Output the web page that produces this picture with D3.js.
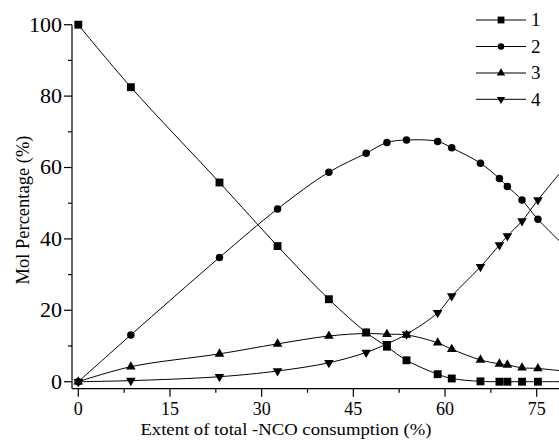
<!DOCTYPE html>
<html>
<head>
<meta charset="utf-8">
<script src="https://cdn.jsdelivr.net/npm/d3@7"></script>
<style>
  body { margin: 0; background: #fff; }
  svg { display: block; }
  text { font-family: "Liberation Serif", "Times New Roman", serif; fill: #000; }
  .axis line { stroke: #000; stroke-width: 1.2; }
</style>
</head>
<body>
<div id="chart"></div>
<script>
// extent of total -NCO consumption (%)
var extent = [0, 8.6, 23.1, 32.6, 41.0, 47.1, 50.5, 53.7, 58.8, 61.1, 65.8, 68.9, 70.2, 72.6, 75.2, 82];
// mol percentage (%) of each species
var species1 = [100, 82.5, 55.8, 38.0, 23.1, 13.8, 9.8, 6.0, 2.1, 0.9, 0.1, 0, 0, 0, 0, 0];
var species2 = [0, 13.1, 34.8, 48.4, 58.7, 64.0, 67.0, 67.7, 67.3, 65.5, 61.2, 56.9, 54.7, 50.9, 45.5, 34];
var species3 = [0, 4.2, 7.8, 10.6, 12.8, 13.5, 13.3, 13.1, 10.9, 9.1, 6.1, 5.0, 4.7, 3.9, 3.7, 2.5];
var species4 = [0, 0.3, 1.4, 3.0, 5.3, 8.2, 10.6, 13.3, 19.3, 24.0, 32.2, 38.3, 40.8, 45.0, 50.9, 65];
var seriesNames = ["1", "2", "3", "4"];
var xTicks = [0, 15, 30, 45, 60, 75];
var yTicks = [0, 20, 40, 60, 80, 100];

var width = 559, height = 444;

var svg = d3.select("#chart").append("svg")
  .attr("width", width)
  .attr("height", height);

// 0 -> 78.3px, 75 -> 536.7px ; plot runs off the right edge like the original
var x = d3.scaleLinear().domain([0, 75]).range([78.3, 536.7]);
var y = d3.scaleLinear().domain([0, 100]).range([381.7, 24.7]);
var xMin = -1.03, yMin = -1.96;

var marks = [
  { name: seriesNames[0], values: species1, shape: d3.symbolSquare, size: 62, rot: 0 },
  { name: seriesNames[1], values: species2, shape: d3.symbolCircle, size: 44, rot: 0 },
  { name: seriesNames[2], values: species3, shape: d3.symbolTriangle, size: 40, rot: 0 },
  { name: seriesNames[3], values: species4, shape: d3.symbolTriangle, size: 40, rot: 180 }
];

// axes (drawn by hand so the ticks can be major/minor like the original)
var axisY = svg.append("g").attr("class", "axis")
  .attr("transform", "translate(" + x(xMin) + ",0)");
axisY.append("line")
  .attr("y1", y(yMin)).attr("y2", y(100));
axisY.selectAll(".major").data(yTicks).enter().append("line")
  .attr("x1", -8).attr("x2", 0)
  .attr("y1", function(d) { return y(d); })
  .attr("y2", function(d) { return y(d); });
axisY.selectAll(".minor").data(d3.range(10, 100, 20)).enter().append("line")
  .attr("x1", -4).attr("x2", 0)
  .attr("y1", function(d) { return y(d); })
  .attr("y2", function(d) { return y(d); });
axisY.selectAll("text").data(yTicks).enter().append("text")
  .attr("transform", function(d) { return "translate(-10," + y(d) + ") scale(1.1,1)"; })
  .attr("dy", "0.34em")
  .attr("text-anchor", "end")
  .style("font-size", "20px")
  .text(function(d) { return d; });

var axisX = svg.append("g").attr("class", "axis")
  .attr("transform", "translate(0," + y(yMin) + ")");
axisX.append("line")
  .attr("x1", x(xMin)).attr("x2", x(95));
axisX.selectAll(".major").data(d3.range(0, 95, 15)).enter().append("line")
  .attr("y1", 0).attr("y2", 8)
  .attr("x1", function(d) { return x(d); })
  .attr("x2", function(d) { return x(d); });
axisX.selectAll(".minor").data(d3.range(7.5, 95, 15)).enter().append("line")
  .attr("y1", 0).attr("y2", 4)
  .attr("x1", function(d) { return x(d); })
  .attr("x2", function(d) { return x(d); });
axisX.selectAll("text").data(xTicks).enter().append("text")
  .attr("x", function(d) { return x(d); })
  .attr("y", 26.8)
  .attr("text-anchor", "middle")
  .style("font-size", "18px")
  .text(function(d) { return d; });

// axis titles
svg.append("text")
  .attr("transform", "translate(286,435) scale(1.1,1)")
  .attr("text-anchor", "middle")
  .style("font-size", "17px")
  .text("Extent of total -NCO consumption (%)");
svg.append("text")
  .attr("transform", "translate(29,210) rotate(-90)")
  .attr("text-anchor", "middle")
  .style("font-size", "18.5px")
  .text("Mol Percentage (%)");

// lines
var line = d3.line()
  .x(function(d, i) { return x(extent[i]); })
  .y(function(d) { return y(d); })
  .curve(d3.curveCatmullRom.alpha(0.5));

var plot = svg.append("g");
plot.selectAll(".line").data(marks).enter().append("path")
  .attr("fill", "none")
  .attr("stroke", "#000")
  .attr("stroke-width", 1)
  .attr("d", function(d) { return line(d.values); });

// markers
marks.forEach(function(m) {
  var sym = d3.symbol().type(m.shape).size(m.size);
  plot.append("g").selectAll("path").data(m.values).enter().append("path")
    .attr("d", sym)
    .attr("fill", "#000")
    .attr("transform", function(d, i) {
      return "translate(" + x(extent[i]) + "," + y(d) + ") rotate(" + m.rot + ")";
    });
});

// legend
var legend = svg.append("g");
var rowY = [20, 46.5, 73, 99.3];
marks.forEach(function(m, i) {
  var g = legend.append("g").attr("transform", "translate(0," + rowY[i] + ")");
  g.append("line")
    .attr("x1", 476).attr("x2", 526)
    .attr("stroke", "#000").attr("stroke-width", 1);
  g.append("path")
    .attr("d", d3.symbol().type(m.shape).size(m.size * 0.75))
    .attr("transform", "translate(501,0) rotate(" + m.rot + ")")
    .attr("fill", "#000");
  g.append("text")
    .attr("x", 531)
    .attr("dy", "0.34em")
    .style("font-size", "19px")
    .text(m.name);
});
</script>
</body>
</html>
